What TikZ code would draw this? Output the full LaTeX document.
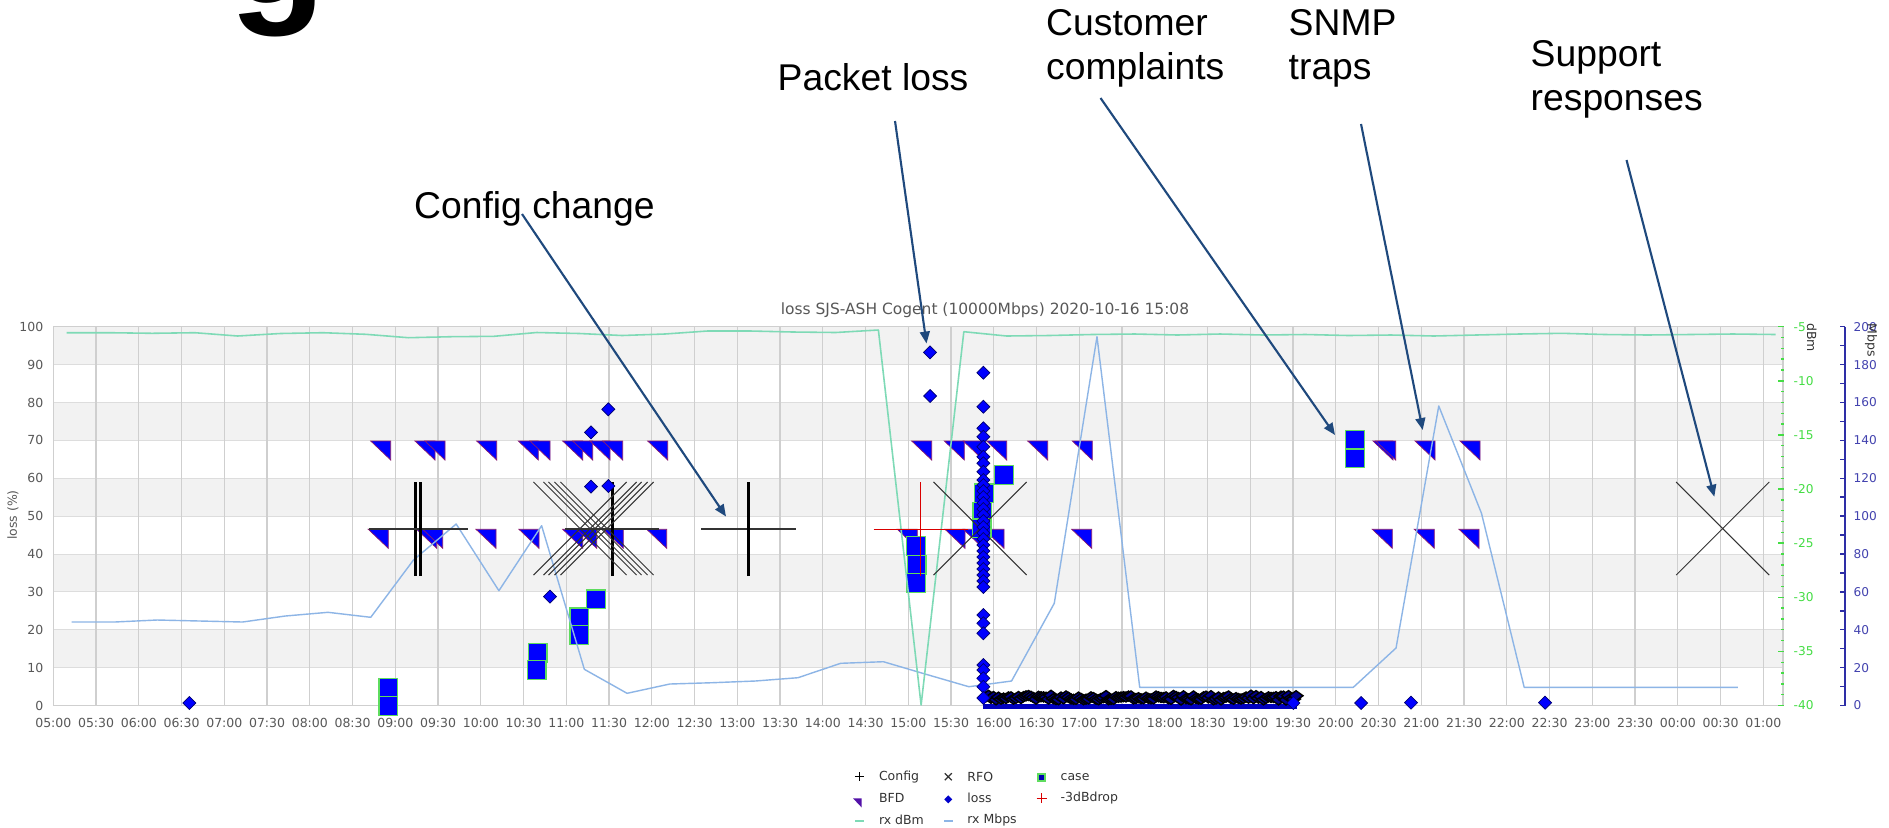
\documentclass[tikz,border=0pt]{standalone}
\usepackage{fontspec}
\setmainfont{Liberation Sans}
\newfontfamily\chartfont{DejaVu Sans}
\usetikzlibrary{arrows.meta}

\definecolor{mBand}{HTML}{F2F2F2}
\definecolor{mGrid}{HTML}{CFCFCF}
\definecolor{mText}{HTML}{585858}
\definecolor{mMark}{HTML}{0000FF}
\definecolor{mBfdEdge}{HTML}{8A1C6E}
\definecolor{mLossEdge}{HTML}{00006E}
\definecolor{mCaseEdge}{HTML}{5EDC5E}
\definecolor{mDbm}{HTML}{7EDAB6}
\definecolor{mMbps}{HTML}{8DB5E6}
\definecolor{mDbmAxis}{HTML}{44DD44}
\definecolor{mMbpsAxis}{HTML}{2E2EA6}
\definecolor{mArrow}{HTML}{1F497D}
\definecolor{mRfo}{HTML}{333333}

\tikzset{
  ticklab/.style={font=\chartfont\fontsize{3.55}{4}\selectfont, text=mText, inner sep=0pt},
  annot/.style={font=\fontsize{10.6}{12.5}\selectfont, inner sep=0pt, anchor=base west},
  callout/.style={draw=mArrow, line width=0.6pt, -{Triangle[length=3.4pt,width=2.8pt]}},
  bfd/.pic={\filldraw[fill=mMark, draw=mBfdEdge, line width=0.2pt] (0,0) -- (-0.2cm,0) -- (0,-0.19cm) -- cycle;},
  lossmark/.pic={\filldraw[fill=mMark, draw=mLossEdge, line width=0.2pt] (0,0.065cm) -- (0.065cm,0) -- (0,-0.065cm) -- (-0.065cm,0) -- cycle;},
  bandmark/.pic={\filldraw[fill=mMark!55!black, draw=black, line width=0.4pt] (0,0.05cm) -- (0.07cm,0) -- (0,-0.05cm) -- (-0.07cm,0) -- cycle;},
  casebox/.pic={\filldraw[fill=mMark, draw=mCaseEdge, line width=0.3pt] (-0.093cm,-0.093cm) rectangle (0.093cm,0.093cm);},
  cfg/.pic={\draw[mRfo, line width=0.35pt] (-0.47cm,0) -- (0.47cm,0); \draw[black, line width=0.75pt] (0,-0.47cm) -- (0,0.47cm);},
  rfo/.pic={\draw[mRfo, line width=0.3pt] (-0.465cm,-0.465cm) -- (0.465cm,0.465cm) (-0.465cm,0.465cm) -- (0.465cm,-0.465cm);},
  dbdrop/.pic={\draw[red!85!black, line width=0.35pt] (-0.47cm,0) -- (0.47cm,0) (0,-0.47cm) -- (0,0.47cm);}
}

\begin{document}
\begin{tikzpicture}[x=0.01cm, y=-0.01cm]
\useasboundingbox (0,0) rectangle (1889,827);
\fill[white] (0,0) rectangle (1889,827);

\node[font=\fontsize{45}{50}\selectfont\bfseries, inner sep=0pt, anchor=base west] (headg) at (229,3) {g};

\foreach \j in {0,2,4,6,8}
  \fill[mBand] (53.3,{326.7+37.88*\j}) rectangle (1783,{326.7+37.88*(\j+1)});
\foreach \j in {0,...,10}
  \draw[mGrid!70, line width=0.25pt] (53.3,{326.7+37.88*\j}) -- (1783,{326.7+37.88*\j});
\foreach \k in {1,...,40}
  \draw[mGrid, line width=0.35pt] ({53.3+42.75*\k},326.7) -- ({53.3+42.75*\k},705.5);
\draw[mGrid, line width=0.35pt] (53.3,326.7) rectangle (1783,705.5);

\node[ticklab, font=\chartfont\fontsize{4.4}{5}\selectfont] (title) at (985,310) {loss SJS-ASH Cogent (10000Mbps) 2020-10-16 15:08};

\foreach \v [count=\j from 0] in {0,10,20,30,40,50,60,70,80,90,100}
  \node[ticklab, anchor=east] (yt\j) at (44,{705.5-37.88*\j}) {\v};
\node[ticklab, rotate=90] (ylab) at (13,515) {loss (\%)};

\foreach \t [count=\k from 0] in {05:00,05:30,06:00,06:30,07:00,07:30,08:00,08:30,09:00,09:30,10:00,10:30,11:00,11:30,12:00,12:30,13:00,13:30,14:00,14:30,15:00,15:30,16:00,16:30,17:00,17:30,18:00,18:30,19:00,19:30,20:00,20:30,21:00,21:30,22:00,22:30,23:00,23:30,00:00,00:30,01:00}
  \node[ticklab] (xt\k) at ({53.3+42.75*\k},723) {\t};

\foreach \j in {0,...,35}
  \draw[mDbmAxis, line width=0.4pt] (1781,{326.7+10.823*\j}) -- (1784,{326.7+10.823*\j});
\foreach \j in {0,...,7}
  \draw[mDbmAxis, line width=0.4pt] (1778,{326.7+54.11*\j}) -- (1784,{326.7+54.11*\j});
\foreach \d [count=\j from 0] in {-5,-10,-15,-20,-25,-30,-35,-40}
  \node[ticklab, text=mDbmAxis, anchor=west, font=\chartfont\fontsize{3.45}{4}\selectfont] (dt\j) at (1793,{326.7+54.11*\j}) {\d};
\node[ticklab, text=black!80, rotate=-90] (dbmlab) at (1811.7,337.5) {dBm};

\draw[mMbpsAxis, line width=0.5pt] (1845,326.7) -- (1845,705.5);
\foreach \j in {0,...,20}
  \draw[mMbpsAxis, line width=0.4pt] (1840,{326.7+18.94*\j}) -- (1845,{326.7+18.94*\j});
\foreach \m [count=\j from 0] in {200,180,160,140,120,100,80,60,40,20,0}
  \node[ticklab, text=mMbpsAxis!90!white, anchor=west, font=\chartfont\fontsize{3.45}{4}\selectfont] (mt\j) at (1853,{326.7+37.88*\j}) {\m};
\node[ticklab, text=black!80, rotate=-90] (mbpslab) at (1871,340) {Mbps};

\foreach \x in {390.7,435,445,496.7,538.3,550,582.7,592.7,610,622.7,667.7,931.7,964.3,983.3,1006.7,1047.7,1092.3,1393,1395.7,1435,1480}
  \pic at (\x,441) {bfd};
\foreach \x in {388.3,436.7,442.7,496,539,582.7,596.7,623.3,666.7,917.3,965,983.3,1004,1091.7,1392.3,1434.3,1479}
  \pic at (\x,529.3) {bfd};

\foreach \x/\y in {388.3/687.5,388.3/706,537.7/652.7,536.7/670,579.3/617.3,579.3/635,596/599.3,916/546,916.7/565,916/583,1004/475,984/493.3,982.3/511.7,981.7/528.3,1355/440,1355/458.3}
  \pic at (\x,\y) {casebox};

\draw[mMbps, line width=0.4pt, line join=round] (71.7,622) \foreach \k/\y in {1/622,2/620,3/621,4/622,5/616,6/612.3,7/617.3,8/560,9/524,10/590.7,11/525.7,12/669.3,13/693.3,14/684,15/682.7,16/681,17/677.7,18/663.3,19/661.7,20/674.3,21/686.7,22/681,23/603.3,24/336.7,25/687.3,26/687.3,27/687.3,28/687.3,29/687.3,30/687.3,31/648,32/406,33/513.3,34/687.3,35/687.3,36/687.3,37/687.3,38/687.3,39/687.3} { -- ({71.7+42.72*\k},\y) };

\draw[mDbm, line width=0.45pt, line join=round] (66.7,332.7) \foreach \k/\y in {1/332.7,2/333.3,3/332.7,4/336,5/333.5,6/332.7,7/334.3,8/337.7,9/336.7,10/336.3,11/332.5,12/333.5,13/335.5,14/334,15/331,16/331,17/332,18/332.5,19/330,20/705,21/331.7,22/336,23/335.5,24/334.5,25/334,26/335,27/334,28/335,29/334.5,30/335.5,31/335,32/336,33/335,34/334,35/333.3,36/334.5,37/335,38/334.5,39/334,40/334.5} { -- ({66.7+42.72*\k},\y) };

\foreach \x in {415.7,420.7,612.3,748.5}
  \pic at (\x,529) {cfg};
\foreach \x in {580,590,595,601,607,980,1722.7}
  \pic at (\x,528.5) {rfo};
\pic at (920.7,529.3) {dbdrop};

\pgfmathsetseed{11}
\fill[mMark!75!black] (983,703.5) rectangle (1297,708.5);
\foreach \i in {0,...,124} {
  \pgfmathsetmacro{\bx}{986+2.5*\i}
  \pgfmathsetmacro{\by}{700-5*rnd}
  \pic at (\bx,\by) {bandmark};
}

\foreach \x/\y in {189.3/703,550/596.7,591/432.3,608.3/409.3,591/486.7,608.3/486,930/352.3,930/396,1293.3/703,1361/703,1411/702.7,1545/702.7}
  \pic at (\x,\y) {lossmark};
\foreach \y in {372.7,406.7,428.3,436.7,446.7,456.7,463.3,471.7,480,615,623.3,633.3,665,670,678.3,686.7,698}
  \pic at (983.3,\y) {lossmark};
\foreach \y in {485,491,...,587}
  \pic at (983.3,\y) {lossmark};

\draw[black, line width=0.4pt] (854.8,776.7) -- (863.8,776.7) (859.3,772.2) -- (859.3,781.2);
\node[ticklab, text=black!80, anchor=west] (kcfg) at (878.3,776.7) {Config};
\draw[mRfo, line width=0.35pt] (944.8,773.2) -- (951.8,780.2) (944.8,780.2) -- (951.8,773.2);
\node[ticklab, text=black!80, anchor=west] (krfo) at (966.7,776.7) {RFO};
\filldraw[fill=mMark!70!black, draw=mCaseEdge, line width=0.5pt] (1038.2,773.8) rectangle (1045.2,780.8);
\node[ticklab, text=black!80, anchor=west] (kcase) at (1060,776.7) {case};
\fill[mBfdEdge!60!mMark] (853,798.3) -- (861.5,798.3) -- (861.5,807.3) -- cycle;
\node[ticklab, text=black!80, anchor=west] (kbfd) at (878.3,798.3) {BFD};
\fill[mMark!80!black] (948.3,795.3) -- (952.3,799.3) -- (948.3,803.3) -- (944.3,799.3) -- cycle;
\node[ticklab, text=black!80, anchor=west] (kloss) at (966.7,798.3) {loss};
\draw[red!85!black, line width=0.4pt] (1036.7,798.3) -- (1046.7,798.3) (1041.7,793.3) -- (1041.7,803.3);
\node[ticklab, text=black!80, anchor=west] (kdrop) at (1060,798.3) {-3dBdrop};
\draw[mDbm, line width=0.6pt] (855,820.7) -- (864,820.7);
\node[ticklab, text=black!80, anchor=west] (kdbm) at (878.3,820.3) {rx dBm};
\draw[mMbps, line width=0.6pt] (944,820.7) -- (953,820.7);
\node[ticklab, text=black!80, anchor=west] (kmbps) at (966.7,820.3) {rx Mbps};

\node[annot] (pkt) at (777,90) {Packet loss};
\node[annot] (custA) at (1045.5,35) {Customer};
\node[annot] (custB) at (1045.5,79) {complaints};
\node[annot] (snmpA) at (1288,35) {SNMP};
\node[annot] (snmpB) at (1288,79) {traps};
\node[annot] (supA) at (1530,66) {Support};
\node[annot] (supB) at (1530,110) {responses};
\node[annot] (cfgtxt) at (413.5,218) {Config change};

\coordinate (cfg-from) at (522,214);
\coordinate (cfg-to) at (726,516.5);
\coordinate (pkt-from) at (895,121);
\coordinate (pkt-to) at (926.5,343.5);
\coordinate (cust-from) at (1100.5,98);
\coordinate (cust-to) at (1335,435);
\coordinate (snmp-from) at (1361,124);
\coordinate (snmp-to) at (1422.7,430);
\coordinate (sup-from) at (1626.5,160);
\coordinate (sup-to) at (1714.3,496.7);

\draw[callout] (cfg-from) -- (cfg-to);
\draw[callout] (pkt-from) -- (pkt-to);
\draw[callout] (cust-from) -- (cust-to);
\draw[callout] (snmp-from) -- (snmp-to);
\draw[callout] (sup-from) -- (sup-to);
\end{tikzpicture}
\end{document}
